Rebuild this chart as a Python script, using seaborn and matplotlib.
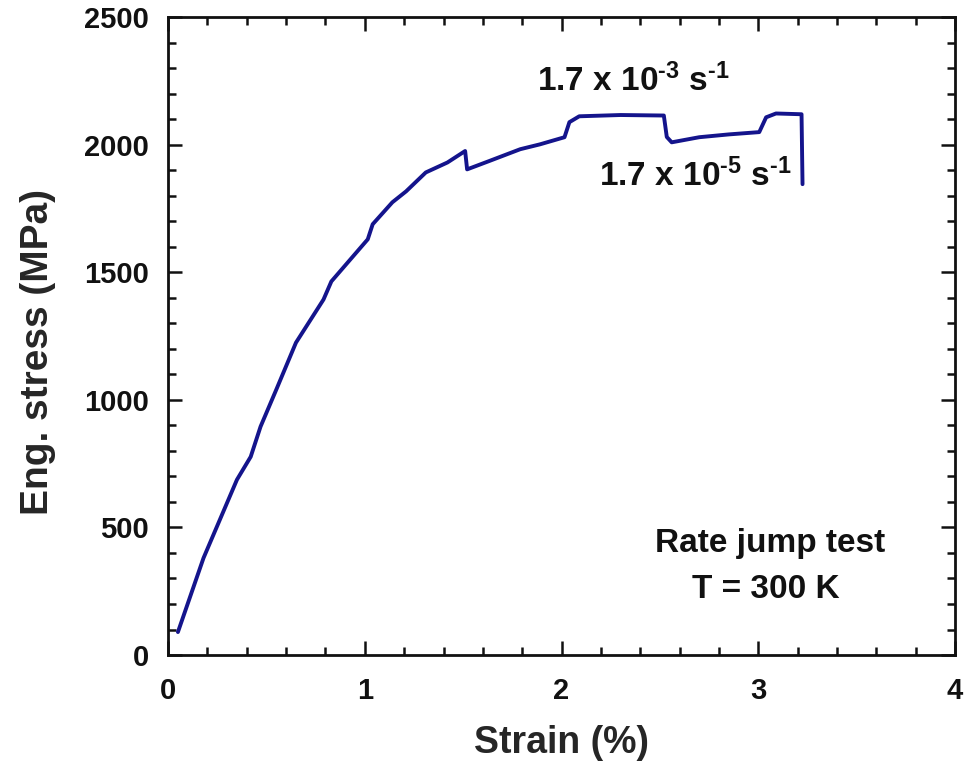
import matplotlib
matplotlib.use("Agg")
import matplotlib.pyplot as plt
import seaborn as sns
import pandas as pd
from matplotlib.ticker import MultipleLocator

strain = [0.05, 0.18, 0.35, 0.42, 0.47, 0.55, 0.65, 0.79, 0.83, 1.015, 1.04,
          1.14, 1.21, 1.31, 1.42, 1.51, 1.52, 1.63, 1.79, 1.89, 2.015, 2.04,
          2.09, 2.30, 2.52, 2.535, 2.56, 2.70, 2.85, 3.005, 3.04, 3.09, 3.22, 3.225]
stress = [90, 380, 687, 777, 895, 1040, 1224, 1393, 1464, 1629, 1688,
          1774, 1817, 1891, 1930, 1975, 1903, 1935, 1982, 2001, 2029, 2088,
          2111, 2116, 2114, 2030, 2009, 2029, 2040, 2049, 2107, 2122, 2119, 1845]

xticks = [0, 1, 2, 3, 4]
yticks = [0, 500, 1000, 1500, 2000, 2500]

sns.set_theme(style="ticks")
plt.rcParams['font.family'] = ['Liberation Sans', 'DejaVu Sans']
plt.rcParams['font.weight'] = 'bold'
plt.rcParams['mathtext.fontset'] = 'custom'
plt.rcParams['mathtext.rm'] = 'Liberation Sans:bold'
plt.rcParams['mathtext.it'] = 'Liberation Sans:bold'
plt.rcParams['mathtext.bf'] = 'Liberation Sans:bold'
plt.rcParams['mathtext.default'] = 'rm'

df = pd.DataFrame({"strain": strain, "stress": stress})

fig = plt.figure(figsize=(9.66, 7.63), dpi=100)
ax = fig.add_axes([0.174, 0.1415, 0.8146, 0.8362])
sns.lineplot(data=df, x="strain", y="stress", sort=False, estimator=None,
             color="#14148c", linewidth=2.8, ax=ax)

ax.set_xlim(0, 4)
ax.set_ylim(0, 2500)
ax.set_xticks(xticks)
ax.set_yticks(yticks)
ax.xaxis.set_minor_locator(MultipleLocator(0.2))
ax.yaxis.set_minor_locator(MultipleLocator(100))
ax.tick_params(which='both', direction='in', top=True, right=True,
               width=1.8, color='#111111', labelcolor='#111111', labelsize=21)
ax.tick_params(which='major', length=10)
ax.tick_params(which='minor', length=6)
ax.tick_params(axis='x', which='major', pad=16)
ax.tick_params(axis='y', which='major', pad=14)
for lbl in ax.get_xticklabels() + ax.get_yticklabels():
    lbl.set_fontweight('bold')
for s in ax.spines.values():
    s.set_linewidth(2.0)
    s.set_color('#111111')

ax.set_xlabel("Strain (%)", fontsize=27, fontweight='bold', labelpad=14)
ax.set_ylabel("Eng. stress (MPa)", fontsize=28, fontweight='bold', labelpad=20)
ax.yaxis.label.set_y(0.475)

hy = "\u2010"
ax.text(1.875, 2210, r"1.7 x 10$^{" + hy + "3}$ s$^{" + hy + "1}$", fontsize=24,
        fontweight='bold', ha='left', va='baseline', color='#111111')
ax.text(2.19, 1837, r"1.7 x 10$^{" + hy + "5}$ s$^{" + hy + "1}$", fontsize=24,
        fontweight='bold', ha='left', va='baseline', color='#111111')
ax.text(3.06, 404, "Rate jump test", fontsize=24, fontweight='bold',
        ha='center', va='baseline', color='#111111')
ax.text(3.04, 224, "T = 300 K", fontsize=24, fontweight='bold',
        ha='center', va='baseline', color='#111111')

fig.savefig("out.png", dpi=100)
